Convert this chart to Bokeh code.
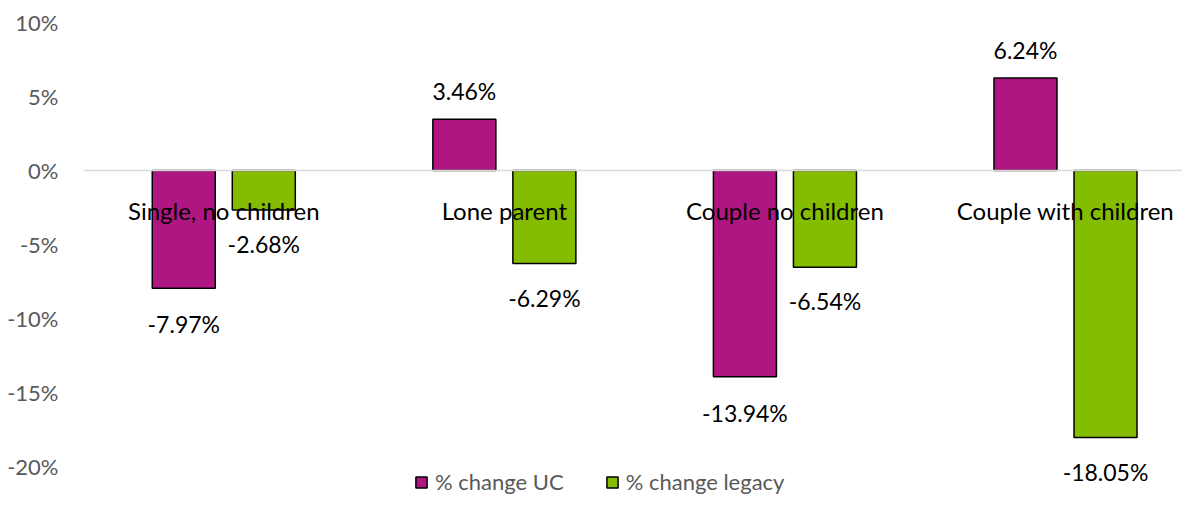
from bokeh.plotting import figure
from bokeh.models import ColumnDataSource, FixedTicker, CustomJSTickFormatter, Legend, LegendItem, Range1d
from bokeh.core.properties import value
from bokeh.embed import file_html
from bokeh.resources import INLINE

categories = ["Single, no children", "Lone parent", "Couple no children", "Couple with children"]
uc_change = [-7.97, 3.46, -13.94, 6.24]
legacy_change = [-2.68, -6.29, -6.54, -18.05]
y_ticks = [-20, -15, -10, -5, 0, 5, 10]

FONT = "Lato"
PURPLE = "#B01682"
GREEN = "#84BD00"

xs = list(range(len(categories)))
off = 0.1426
bw = 0.2246

def lbl(v):
    return f"{v:.2f}%"

uc_src = ColumnDataSource(dict(
    x=[i - off for i in xs], top=uc_change,
    label=[lbl(v) for v in uc_change],
    yoff=[-28 if v >= 0 else 36 for v in uc_change],
))
lg_src = ColumnDataSource(dict(
    x=[i + off for i in xs], top=legacy_change,
    label=[lbl(v) for v in legacy_change],
    yoff=[-28 if v >= 0 else 34 for v in legacy_change],
))
cat_src = ColumnDataSource(dict(x=xs, y=[0] * len(xs), name=categories))

p = figure(width=1182, height=498, output_backend="svg", toolbar_location=None,
           x_range=Range1d(-0.5, 3.417), y_range=Range1d(-22.17, 11.01),
           min_border_left=83, min_border_right=0, min_border_top=7, min_border_bottom=0)
p.outline_line_color = None
p.xaxis.visible = False
p.xgrid.visible = False

p.yaxis.ticker = FixedTicker(ticks=y_ticks)
p.yaxis.formatter = CustomJSTickFormatter(code="return tick + '%';")
p.yaxis.axis_line_color = None
p.yaxis.major_tick_line_color = None
p.yaxis.minor_tick_line_color = None
p.yaxis.major_label_standoff = 19
p.yaxis.major_label_text_font = FONT
p.yaxis.major_label_text_font_size = "22px"
p.yaxis.major_label_text_color = "#595959"

p.ygrid.ticker = FixedTicker(ticks=[0])
p.ygrid.grid_line_color = "#D9D9D9"
p.ygrid.grid_line_width = 1.5
p.ygrid.level = "overlay"

r1 = p.vbar(x="x", top="top", bottom=0, width=bw, source=uc_src,
            fill_color=PURPLE, line_color="black", line_width=1.5)
r2 = p.vbar(x="x", top="top", bottom=0, width=bw, source=lg_src,
            fill_color=GREEN, line_color="black", line_width=1.5)

for src in (uc_src, lg_src):
    p.text(x="x", y="top", text="label", y_offset="yoff", source=src,
           text_font=value(FONT), text_font_size="23px", text_color="black",
           text_align="center", text_baseline="middle")

p.text(x="x", y="y", text="name", y_offset=40, source=cat_src,
       text_font=value(FONT), text_font_size="24px", text_color="black",
       text_align="center", text_baseline="middle")

legend = Legend(items=[LegendItem(label="% change UC", renderers=[r1]),
                       LegendItem(label="% change legacy", renderers=[r2])],
                orientation="horizontal", location=(331, 3),
                label_text_font=FONT, label_text_font_size="22px",
                label_text_color="#595959", glyph_width=14, glyph_height=14,
                label_standoff=7, spacing=41, padding=0, margin=0,
                border_line_color=None, background_fill_alpha=0)
p.add_layout(legend)

open("out.html", "w").write(file_html(p, INLINE))
